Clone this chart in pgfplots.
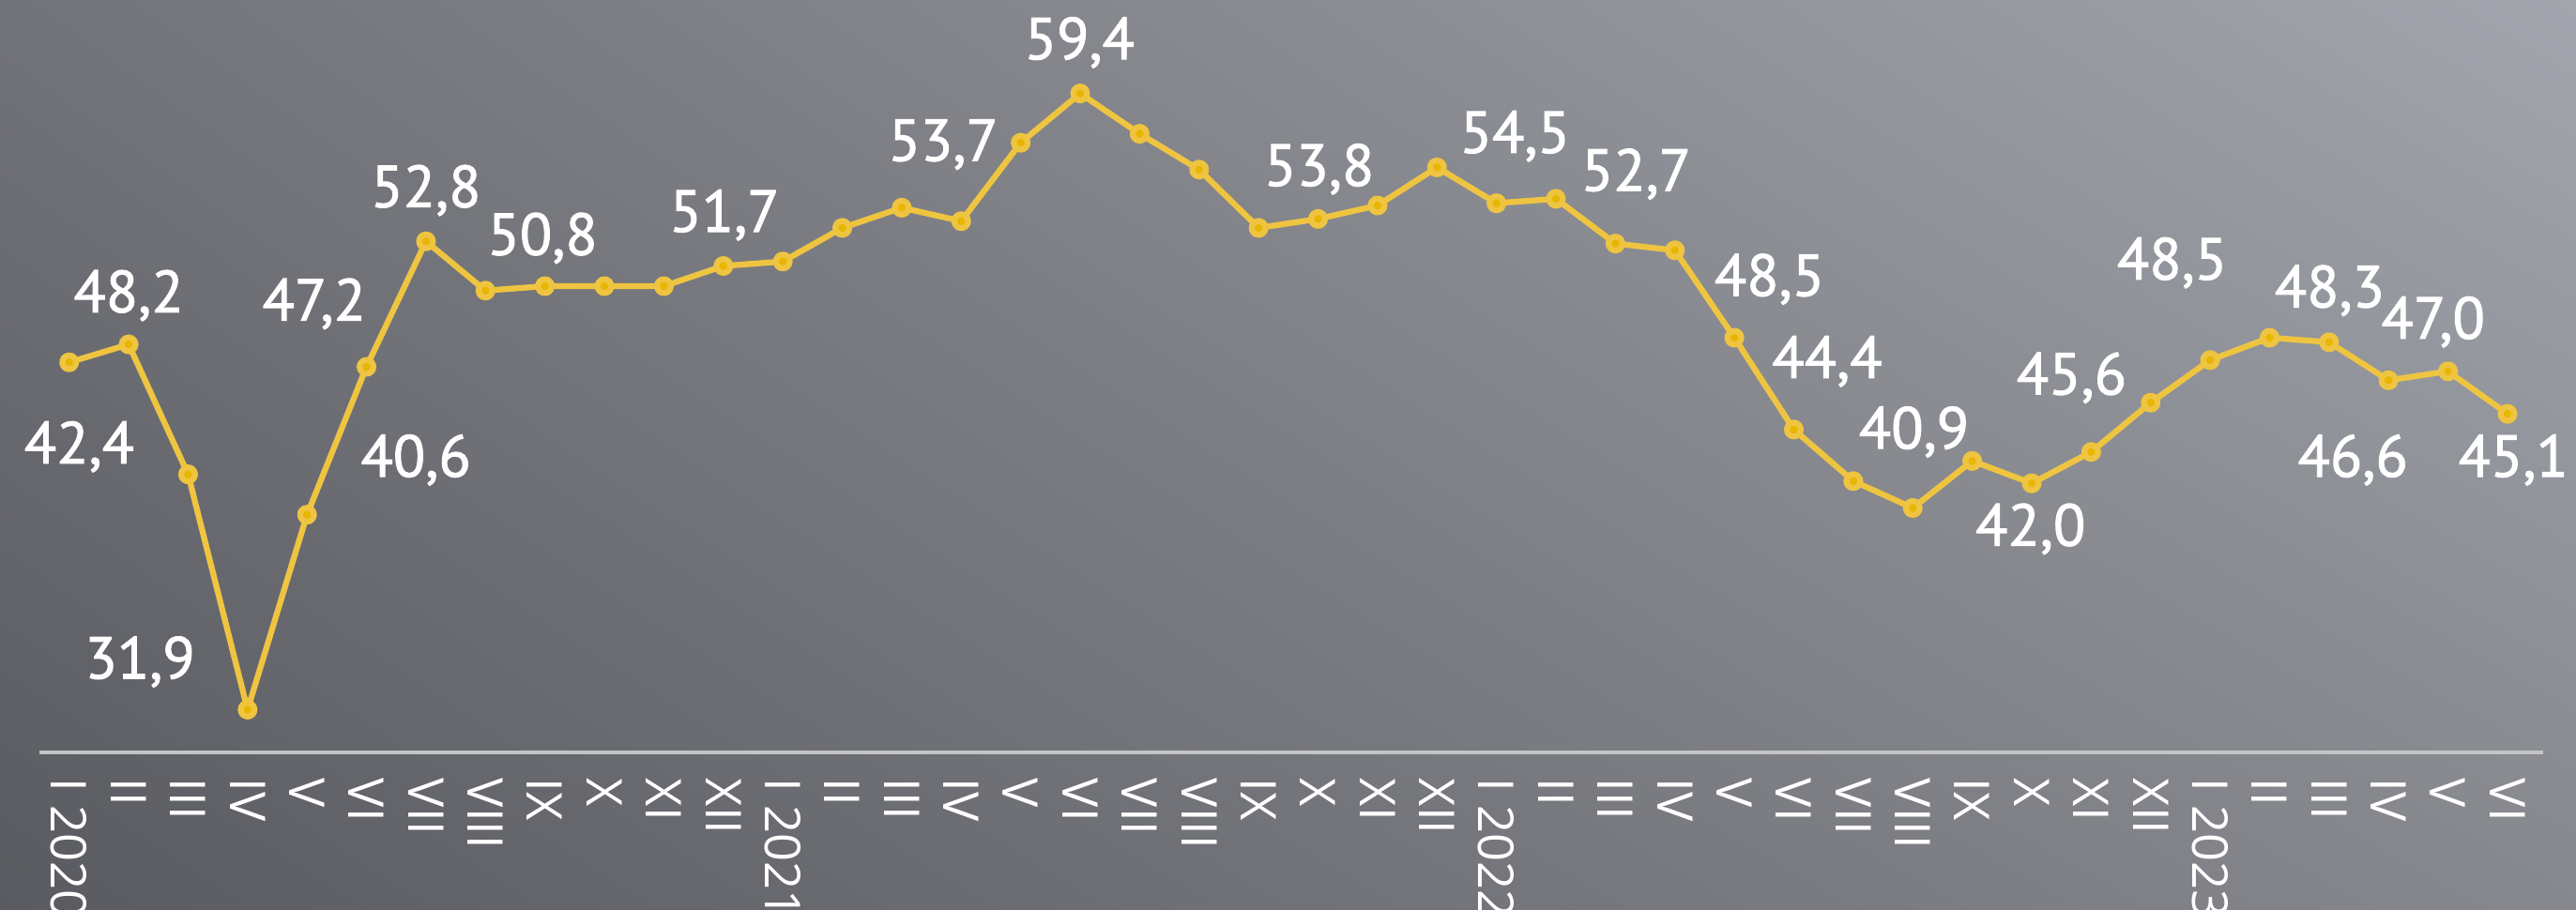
\documentclass[border=0pt]{standalone}
\usepackage{pgfplots}
\pgfplotsset{compat=1.18}
\usepackage{pgfplotstable}
\usetikzlibrary{shadings}
\usepackage{fontspec}
\setmainfont{PT Sans}
\newfontfamily\labelfont[FakeBold=1.5]{PT Sans}
\newfontfamily\tickfont{Open Sans}
\definecolor{bgUL}{HTML}{727378}
\definecolor{bgUR}{HTML}{A2A5AD}
\definecolor{bgLL}{HTML}{5A5B60}
\definecolor{bgLR}{HTML}{86888D}
\definecolor{lineY}{HTML}{EEC441}
\definecolor{markY}{HTML}{E8B500}
\definecolor{axisC}{HTML}{C3C4C7}

\pgfplotstableread{
x y
0 47.4
1 48.2
2 42.4
3 31.9
4 40.6
5 47.2
6 52.8
7 50.6
8 50.8
9 50.8
10 50.8
11 51.7
12 51.9
13 53.4
14 54.3
15 53.7
16 57.2
17 59.4
18 57.6
19 56.0
20 53.4
21 53.8
22 54.4
23 56.1
24 54.5
25 54.7
26 52.7
27 52.4
28 48.5
29 44.4
30 42.1
31 40.9
32 43.0
33 42.0
34 43.4
35 45.6
36 47.5
37 48.5
38 48.3
39 46.6
40 47.0
41 45.1
}\pmidata

\begin{document}
\begin{tikzpicture}
\clip (-12pt,-48pt) rectangle (772pt,229pt);
\shade[upper left=bgUL, upper right=bgUR, lower left=bgLL, lower right=bgLR] (-12pt,-48pt) rectangle (772pt,229pt);
\begin{axis}[
  at={(0,0)}, anchor=south west,
  scale only axis, width=762pt, height=229pt,
  xmin=-0.5, xmax=41.6, ymin=30, ymax=63.57,
  clip=false,
  axis x line=bottom, axis y line=none,
  x axis line style={draw=axisC, line width=1pt, -},
  ytick=\empty,
  xtick={0,...,41},
  xticklabels={I 2020,II,III,IV,V,VI,VII,VIII,IX,X,XI,XII,
               I 2021,II,III,IV,V,VI,VII,VIII,IX,X,XI,XII,
               I 2022,II,III,IV,V,VI,VII,VIII,IX,X,XI,XII,
               I 2023,II,III,IV,V,VI},
  major tick length=0pt,
  xticklabel style={rotate=-90, anchor=west, inner sep=0pt, outer sep=0pt,
    xshift=8pt, text=white,
    font=\tickfont\fontsize{15}{16}\selectfont},
]
\addplot[lineY, line width=1.8pt, line join=round, mark=*, mark size=2.1pt,
  mark options={fill=markY, draw=none}] table[x=x,y=y] {\pmidata};

\begin{scope}[every node/.style={font=\labelfont\fontsize{18}{20}\selectfont, text=white}]
\node at (axis cs:0.17,43.63) {42,4};
\node at (axis cs:1.0,50.38) {48,2};
\node at (axis cs:1.19,34.03) {31,9};
\node at (axis cs:4.12,50.01) {47,2};
\node at (axis cs:5.83,43.04) {40,6};
\node at (axis cs:6.0,55.07) {52,8};
\node at (axis cs:7.96,52.94) {50,8};
\node at (axis cs:11.02,53.97) {51,7};
\node at (axis cs:14.70,57.12) {53,7};
\node at (axis cs:16.99,61.67) {59,4};
\node at (axis cs:21.02,56.02) {53,8};
\node at (axis cs:24.31,57.49) {54,5};
\node at (axis cs:26.35,55.80) {52,7};
\node at (axis cs:28.59,51.11) {48,5};
\node at (axis cs:29.56,47.44) {44,4};
\node at (axis cs:31.02,44.29) {40,9};
\node at (axis cs:32.98,39.96) {42,0};
\node at (axis cs:33.67,46.71) {45,6};
\node at (axis cs:35.36,51.84) {48,5};
\node at (axis cs:38.01,50.60) {48,3};
\node at (axis cs:39.75,49.20) {47,0};
\node at (axis cs:38.40,43.04) {46,6};
\node at (axis cs:41.10,43.04) {45,1};
\end{scope}
\end{axis}
\end{tikzpicture}
\end{document}
